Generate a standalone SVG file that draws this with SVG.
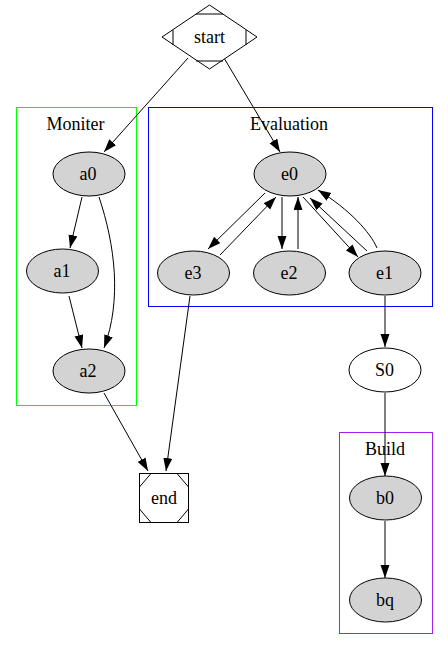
<svg xmlns="http://www.w3.org/2000/svg" width="448" height="660" viewBox="0 0 448 660">
<style>
text{font-family:"Liberation Serif","Times New Roman",serif;font-size:18px;text-anchor:middle;fill:#000}
.n{fill:#d3d3d3;stroke:#000;stroke-width:1}
.w{fill:#fff;stroke:#000;stroke-width:1}
.e{fill:none;stroke:#000;stroke-width:1;marker-end:url(#ah)}
.c{fill:none;stroke-width:1}
</style>
<defs>
<marker id="ah" markerUnits="userSpaceOnUse" markerWidth="14" markerHeight="10" refX="13" refY="4.5" orient="auto">
<path d="M0,0 L13,4.5 L0,9 z" fill="#000"/>
</marker>
</defs>
<rect width="448" height="660" fill="#fff"/>
<g id="cluster_moniter">
<rect class="c" x="16.5" y="107.5" width="120" height="298" stroke="#00ff00"/>
<text x="75.5" y="129.5">Moniter</text>
</g>
<g id="cluster_evaluation">
<rect class="c" x="148.5" y="107.5" width="284" height="199" stroke="#0000ff"/>
<text x="289" y="129.5">Evaluation</text>
</g>
<g id="cluster_build">
<rect class="c" x="339.5" y="432.5" width="93" height="201" stroke="#a020f0"/>
<text x="385" y="455">Build</text>
</g>
<g id="edges">
<path class="e" d="M188,58 L104,152"/>
<path class="e" d="M224,58 L280,152"/>
<path class="e" d="M82,197 L70,248"/>
<path class="e" d="M99,197 C115,245 122,300 104,348"/>
<path class="e" d="M69,296 L82,348"/>
<path class="e" d="M104,393 L148,471"/>
<path class="e" d="M190,296 L166,471"/>
<path class="e" d="M265,193 L208,249"/>
<path class="e" d="M220,255 L276,197"/>
<path class="e" d="M282,197 L282,249"/>
<path class="e" d="M298,249 L298,197"/>
<path class="e" d="M303,197 L358,257"/>
<path class="e" d="M367,251 L310,198"/>
<path class="e" d="M377,248 C370,232 350,210 318,190"/>
<path class="e" d="M385,296 L385,347"/>
<path class="e" d="M385,393 L385,476"/>
<path class="e" d="M385,521 L385,578"/>
</g>
<g id="start">
<polygon class="w" points="209.5,5 257,37 209.5,69 162,37"/>
<path d="M196,14 L223,14 M173,30 L173,45 M246,30 L246,45 M196,61 L223,61" fill="none" stroke="#000"/>
<text x="209.5" y="43">start</text>
</g>
<g id="a0"><ellipse class="n" cx="89" cy="174" rx="36" ry="22"/><text x="88" y="180">a0</text></g>
<g id="a1"><ellipse class="n" cx="62.5" cy="271" rx="36" ry="22"/><text x="62" y="277">a1</text></g>
<g id="a2"><ellipse class="n" cx="89" cy="371" rx="36" ry="22"/><text x="88" y="377">a2</text></g>
<g id="e0"><ellipse class="n" cx="290" cy="174" rx="36" ry="22"/><text x="289.5" y="180">e0</text></g>
<g id="e3"><ellipse class="n" cx="193.5" cy="273" rx="36" ry="22"/><text x="193" y="279">e3</text></g>
<g id="e2"><ellipse class="n" cx="289.5" cy="273" rx="36" ry="22"/><text x="289" y="279">e2</text></g>
<g id="e1"><ellipse class="n" cx="385" cy="273" rx="36" ry="22"/><text x="384.5" y="279">e1</text></g>
<g id="S0"><ellipse class="w" cx="385" cy="370" rx="36" ry="22"/><text x="384.5" y="376">S0</text></g>
<g id="b0"><ellipse class="n" cx="385.5" cy="498" rx="36" ry="22"/><text x="385" y="504">b0</text></g>
<g id="bq"><ellipse class="n" cx="385.5" cy="600" rx="36" ry="22"/><text x="385" y="606">bq</text></g>
<g id="end">
<rect class="w" x="139.5" y="473.5" width="49" height="49"/>
<path d="M139.5,487 L151,473.5 M177,473.5 L188.5,487 M139.5,509 L151,522.5 M177,522.5 L188.5,509" fill="none" stroke="#000"/>
<text x="164" y="504">end</text>
</g>
</svg>
